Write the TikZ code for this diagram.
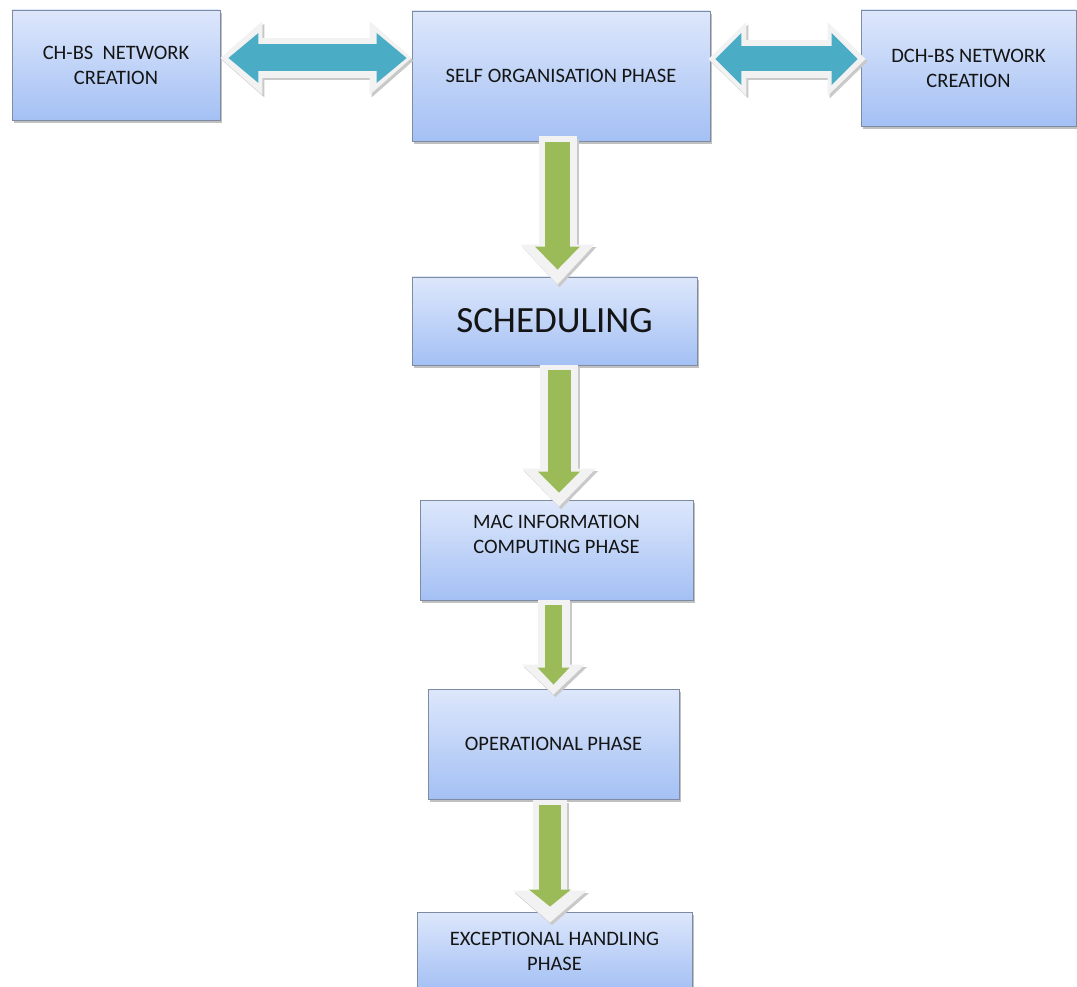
\documentclass[tikz,border=0pt]{standalone}
\usepackage{fontspec}
\setmainfont{Carlito}
\usetikzlibrary{arrows.meta,shadows,calc}

\definecolor{boxtop}{HTML}{DDE7FB}
\definecolor{boxbot}{HTML}{A4C0F4}
\definecolor{boxedge}{HTML}{7D8CA3}
\definecolor{inkcol}{HTML}{141414}
\definecolor{leafgreen}{HTML}{9BBB59}
\definecolor{aqua}{HTML}{4BACC6}
\definecolor{halocol}{HTML}{F2F2F2}
\definecolor{shadecol}{HTML}{C9C9C9}

\begin{document}
\begin{tikzpicture}[x=1pt,y=-1pt,
  phase/.style={draw=boxedge, line width=0.9pt, top color=boxtop, bottom color=boxbot,
    drop shadow={shadow xshift=1.5pt, shadow yshift=-3pt, fill=black!55, opacity=.45},
    align=center, text=inkcol, inner sep=0pt,
    font=\fontsize{20.5}{25}\selectfont},
  % single fat arrow: shaft width, head width, head length
  fat/.style n args={3}{line width=#1,
    -{Triangle[width=#2,length=#3,line width=0pt]}},
  % double-headed fat arrow
  dfat/.style n args={3}{line width=#1,
    {Triangle[width=#2,length=#3,line width=0pt]}-{Triangle[width=#2,length=#3,line width=0pt]}},
  shade/.style={draw=shadecol, transform canvas={shift={(2pt,-2.5pt)}}},
  halo/.style={draw=halocol},
]
\useasboundingbox (0,0) rectangle (1077,987);

% phase boxes
\node[phase, minimum width=208pt, minimum height=110pt] (chbs) at (116,65)
  {CH-BS\ \ NETWORK\\CREATION};
\node[phase, minimum width=298pt, minimum height=130pt] (self) at (561,76)
  {SELF ORGANISATION PHASE};
\node[phase, minimum width=215pt, minimum height=116pt] (dch) at (968.5,68)
  {DCH-BS NETWORK\\CREATION};
\node[phase, minimum width=285pt, minimum height=88pt,
  font=\fontsize{37}{40}\selectfont] (sched) at (554.5,321) {SCHEDULING};
\node[phase, minimum width=273pt, minimum height=100pt,
  label={[align=center, text=inkcol, font=\fontsize{20.5}{25}\selectfont, yshift=16pt]center:MAC INFORMATION\\COMPUTING PHASE}]
  (mac) at (556.5,550) {};
\node[phase, minimum width=251pt, minimum height=110pt] (op) at (553.5,744)
  {OPERATIONAL PHASE};
\node[phase, minimum width=275pt, minimum height=78pt] (exc) at (554.5,951)
  {EXCEPTIONAL HANDLING\\PHASE};

% two-way links along the top row
\draw[shade, dfat={40pt}{74pt}{42pt}] ($(chbs.east)+(0pt,7pt)$) -- ($(self.west)+(0pt,18pt)$);
\draw[halo,  dfat={40pt}{74pt}{42pt}] ($(chbs.east)+(0pt,7pt)$) -- ($(self.west)+(0pt,18pt)$);
\draw[aqua,  dfat={27pt}{50pt}{30pt}] ($(chbs.east)+(8pt,7pt)$) -- ($(self.west)+(-5pt,18pt)$);

\draw[shade, dfat={38pt}{74pt}{38pt}] ($(self.east)+(-2pt,17pt)$) -- ($(dch.west)+(5pt,9pt)$);
\draw[halo,  dfat={38pt}{74pt}{38pt}] ($(self.east)+(-2pt,17pt)$) -- ($(dch.west)+(5pt,9pt)$);
\draw[aqua,  dfat={25pt}{52pt}{26pt}] ($(self.east)+(5pt,17pt)$) -- ($(dch.west)+(-3pt,9pt)$);

% downward flow
\draw[shade, fat={38pt}{74pt}{40pt}] ($(sched.north |- self.south)+(3pt,5pt)$) -- ($(sched.north)+(3pt,-8pt)$);
\draw[halo,  fat={38pt}{74pt}{40pt}] ($(sched.north |- self.south)+(3pt,5pt)$) -- ($(sched.north)+(3pt,-8pt)$);
\draw[leafgreen, fat={25pt}{45pt}{23pt}] ($(sched.north |- self.south)+(3pt,-1pt)$) -- ($(sched.north)+(3pt,7pt)$);

\draw[shade, fat={38pt}{74pt}{38pt}] ($(mac.north |- sched.south)+(2.5pt,0pt)$) -- ($(mac.north)+(2.5pt,-7pt)$);
\draw[halo,  fat={38pt}{74pt}{38pt}] ($(mac.north |- sched.south)+(2.5pt,0pt)$) -- ($(mac.north)+(2.5pt,-7pt)$);
\draw[leafgreen, fat={23pt}{42pt}{21pt}] ($(mac.north |- sched.south)+(2.5pt,-5pt)$) -- ($(mac.north)+(2.5pt,7pt)$);

\draw[shade, fat={32pt}{63pt}{30pt}] (op.north |- mac.south) -- ($(op.north)+(0pt,-6pt)$);
\draw[halo,  fat={32pt}{63pt}{30pt}] (op.north |- mac.south) -- ($(op.north)+(0pt,-6pt)$);
\draw[leafgreen, fat={17pt}{32pt}{17pt}] ($(op.north |- mac.south)+(0pt,-5pt)$) -- ($(op.north)+(0pt,4pt)$);

\draw[shade, fat={34pt}{74pt}{32pt}] ($(exc.north |- op.south)+(-4.5pt,-1pt)$) -- ($(exc.north)+(-4.5pt,-11pt)$);
\draw[halo,  fat={34pt}{74pt}{32pt}] ($(exc.north |- op.south)+(-4.5pt,-1pt)$) -- ($(exc.north)+(-4.5pt,-11pt)$);
\draw[leafgreen, fat={22pt}{42pt}{17pt}] ($(exc.north |- op.south)+(-4.5pt,-6pt)$) -- ($(exc.north)+(-4.5pt,5pt)$);
\end{tikzpicture}
\end{document}
